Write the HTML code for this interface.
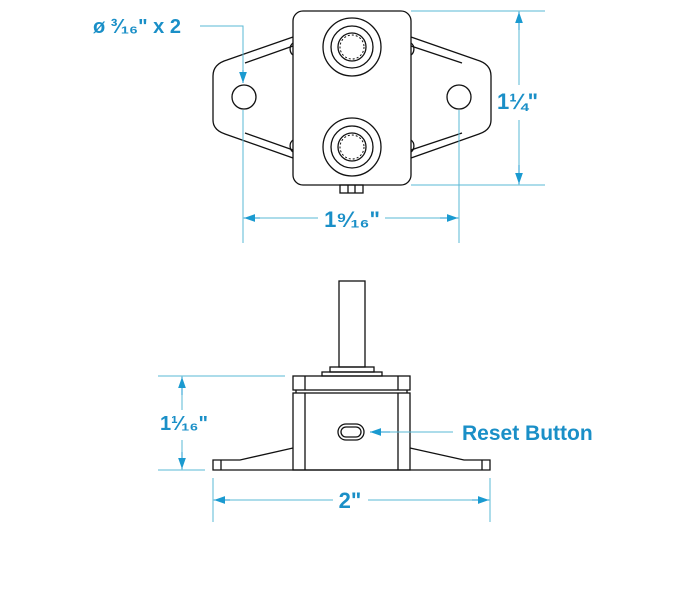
<!DOCTYPE html>
<html><head><style>html,body{margin:0;padding:0;background:#fff}svg{display:block}</style></head><body>
<svg width="679" height="600" viewBox="0 0 679 600" xmlns="http://www.w3.org/2000/svg">
<defs>
<marker id="a" viewBox="0 0 10 10" refX="10" refY="5" markerWidth="11" markerHeight="11" markerUnits="userSpaceOnUse" orient="auto-start-reverse"><path d="M0,1.5 L10,5 L0,8.5 z" fill="#1a9ad0"/></marker>
</defs>
<g fill="none" stroke="#111" stroke-width="1.3">
<path d="M293,37 L227,60 Q213,64 213,76 L213,120 Q213,130 225,134 L293,158"/>
<path d="M411,37 L477,60 Q491,64 491,76 L491,120 Q491,130 479,134 L411,158"/>
<path d="M293,46 L245,63 M293,150 L245,133 M411,46 L462,63 M411,150 L462,133"/>
<circle cx="244" cy="97" r="12"/><circle cx="459" cy="97" r="12"/>
<path d="M293,43 A6,7 0 0 0 293,55 M293,140 A6,7 0 0 0 293,152 M411,43 A6,7 0 0 1 411,55 M411,140 A6,7 0 0 1 411,152"/>
<rect x="293" y="11" width="118" height="174" rx="10" fill="#fff"/>
<circle cx="352" cy="47" r="29"/><circle cx="352" cy="47" r="21"/><circle cx="352" cy="47" r="12" stroke-width="1" stroke-dasharray="2 2"/><circle cx="352" cy="47" r="14"/>
<circle cx="352" cy="147" r="29"/><circle cx="352" cy="147" r="21"/><circle cx="352" cy="147" r="12" stroke-width="1" stroke-dasharray="2 2"/><circle cx="352" cy="147" r="14"/>
<rect x="340" y="185" width="23" height="8"/><path d="M348,185 V193 M355,185 V193"/>
<rect x="339" y="281" width="26" height="86"/>
<rect x="330" y="367" width="44" height="5"/>
<rect x="322" y="372" width="60" height="4"/>
<rect x="293" y="376" width="117" height="14"/>
<path d="M305,376 V390 M398,376 V390"/>
<rect x="293" y="393" width="117" height="77"/>
<path d="M305,393 V470 M398,393 V470 M296,390 V393 M407,390 V393"/>
<path d="M293,448 L240,460 L213,460 L213,470 L490,470 L490,460 L464,460 L410,448"/>
<path d="M221,460 V470 M482,460 V470"/>
<rect x="338" y="424" width="26" height="16" rx="8"/>
<rect x="341" y="427" width="20" height="10" rx="5"/>
</g>
<g fill="none" stroke="#5ab8d4" stroke-width="1">
<path d="M411,11 H545 M411,185 H545"/>
<path d="M519,11 V85 M519,120 V185"/>
<path d="M200,26 H243 V83"/>
<path d="M243,110 V243 M459,110 V243"/>
<path d="M243,218 H318 M385,218 H459"/>
<path d="M158,376 H285 M158,470 H205"/>
<path d="M182,376 V410 M182,440 V470"/>
<path d="M213,478 V522 M490,478 V522"/>
<path d="M213,500 H333 M368,500 H490"/>
<path d="M453,432 H370"/>
</g>
<g stroke="#1a9ad0" stroke-width="1" fill="none">
<path d="M519,30 V12" marker-end="url(#a)"/><path d="M519,165 V184" marker-end="url(#a)"/>
<path d="M243,70 V83" marker-end="url(#a)"/>
<path d="M260,218 H244" marker-end="url(#a)"/><path d="M440,218 H458" marker-end="url(#a)"/>
<path d="M182,395 V377" marker-end="url(#a)"/><path d="M182,452 V469" marker-end="url(#a)"/>
<path d="M230,500 H214" marker-end="url(#a)"/><path d="M472,500 H489" marker-end="url(#a)"/>
<path d="M390,432 H370" marker-end="url(#a)"/>
</g>
<g font-family="Liberation Sans, sans-serif" font-weight="bold" fill="#1a8fc7">
<text x="93" y="33" font-size="20">ø ³⁄₁₆" x 2</text>
<text x="497" y="109" font-size="22">1¼"</text>
<text x="352" y="227" font-size="22" text-anchor="middle">1⁹⁄₁₆"</text>
<text x="160" y="430" font-size="20">1¹⁄₁₆"</text>
<text x="350" y="508" font-size="22" text-anchor="middle">2"</text>
<text x="462" y="440" font-size="21">Reset Button</text>
</g>
</svg>
</body></html>
